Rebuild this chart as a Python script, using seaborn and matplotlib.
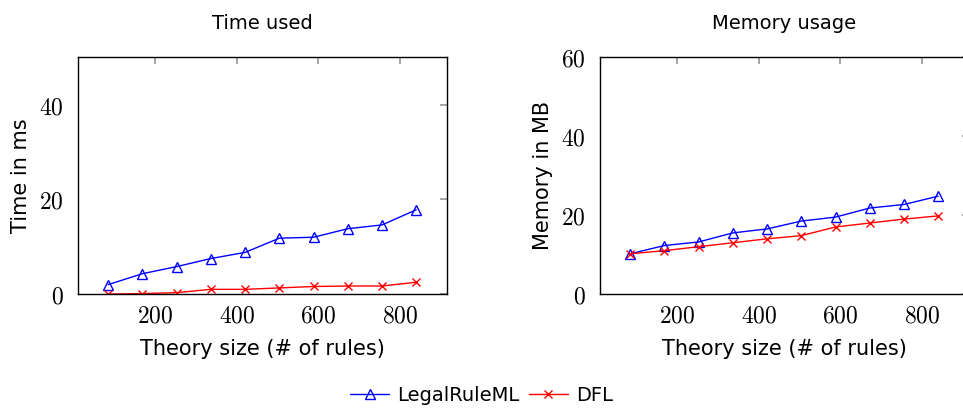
import pandas as pd
import matplotlib
matplotlib.use("Agg")
import matplotlib.pyplot as plt
import matplotlib.ticker as mticker
import seaborn as sns

# Data
theory_size = [84, 168, 252, 336, 420, 504, 588, 672, 756, 840]
time_legalruleml = [2.0, 4.3, 5.8, 7.5, 8.8, 11.8, 12.0, 13.8, 14.6, 17.8]
time_dfl = [0.0, 0.1, 0.3, 1.0, 1.0, 1.3, 1.6, 1.7, 1.7, 2.5]
mem_legalruleml = [10.2, 12.3, 13.2, 15.5, 16.5, 18.5, 19.5, 21.8, 22.7, 24.8]
mem_dfl = [10.2, 11.0, 12.0, 13.0, 14.0, 14.8, 17.0, 18.0, 19.0, 19.8]
formats = ["LegalRuleML", "DFL"]

df = pd.concat([
    pd.DataFrame({"size": theory_size, "time": time_legalruleml,
                  "memory": mem_legalruleml, "format": "LegalRuleML"}),
    pd.DataFrame({"size": theory_size, "time": time_dfl,
                  "memory": mem_dfl, "format": "DFL"}),
])

sns.set_theme(style="white")
plt.rcParams["font.family"] = ["DejaVu Sans"]
plt.rcParams["mathtext.fontset"] = "cm"
plt.rcParams["text.color"] = "black"
plt.rcParams["axes.labelcolor"] = "black"
plt.rcParams["xtick.labelcolor"] = "black"
plt.rcParams["ytick.labelcolor"] = "black"

colors = {"LegalRuleML": "blue", "DFL": "red"}
markers = {"LegalRuleML": "^", "DFL": "x"}
msizes = {"LegalRuleML": 7, "DFL": 6}

fig = plt.figure(figsize=(9.63, 4.09), dpi=100)
ax1 = fig.add_axes([0.081, 0.281, 0.383, 0.579])
ax2 = fig.add_axes([0.623, 0.281, 0.383, 0.579])

fmt = mticker.FuncFormatter(lambda v, p: f"${v:.0f}$")

for ax, col, ylab, title, ymax in [
    (ax1, "time", "Time in ms", "Time used", 50),
    (ax2, "memory", "Memory in MB", "Memory usage", 60),
]:
    for f in formats:
        sub = df[df["format"] == f]
        sns.lineplot(data=sub, x="size", y=col, color=colors[f],
                     marker=markers[f], markersize=msizes[f], mfc="none",
                     mec=colors[f], mew=1.0, linewidth=1.0, ax=ax, label=f,
                     legend=False)
    ax.set_xlim(10, 915)
    ax.set_ylim(0, ymax)
    ax.set_xticks([200, 400, 600, 800])
    ax.set_yticks(range(0, ymax + 1, 20))
    ax.xaxis.set_major_formatter(fmt)
    ax.yaxis.set_major_formatter(fmt)
    ax.tick_params(direction="in", top=True, right=True, length=5,
                   color="#999999", labelsize=17)
    ax.tick_params(axis="y", pad=10)
    ax.tick_params(axis="x", pad=7)
    for s in ax.spines.values():
        s.set_color("black")
        s.set_linewidth(1.0)
    ax.set_xlabel("Theory size (# of rules)", fontsize=15, labelpad=8)
    ax.set_ylabel(ylab, fontsize=15, labelpad=6)
    ax.set_title(title, fontsize=14, pad=20)

handles = ax1.lines[:2]
fig.legend(handles, formats, loc="center", bbox_to_anchor=(0.5, 0.034),
           ncol=2, frameon=False, fontsize=14, handlelength=2.0,
           columnspacing=0.5, handletextpad=0.4)

fig.savefig("out.png", dpi=100)
